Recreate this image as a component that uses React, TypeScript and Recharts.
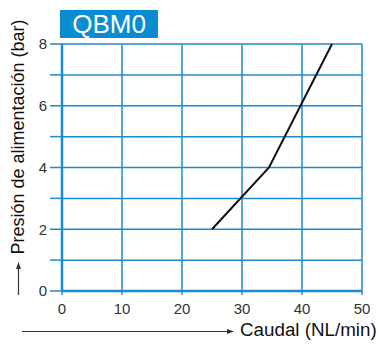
import { LineChart, Line, XAxis, YAxis, CartesianGrid } from 'recharts';

// reading of the QBM0 curve
const flow = [25, 34.5, 45];
const pressure = [2, 4, 8];
const xTicks = [0, 10, 20, 30, 40, 50];
const yTicks = [0, 1, 2, 3, 4, 5, 6, 7, 8];

const title = 'QBM0';
const xTitle = 'Caudal (NL/min)';
const yTitle = 'Presión de alimentación (bar)';

const BLUE = '#1f8ad2';
const FONT = '"Liberation Sans", Arial, sans-serif';

const data = flow.map((q, i) => ({ q, p: pressure[i] }));

function YTick({ x, y, payload }: any) {
  if (payload.value % 2 !== 0) return <g />;
  return (
    <text x={x} y={y} dy="0.36em" textAnchor="end" fontSize={15} fill="#333" fontFamily={FONT}>
      {payload.value}
    </text>
  );
}

function XTitle() {
  return (
    <g>
      <line x1={22} y1={331.5} x2={229} y2={331.5} stroke="#333" strokeWidth={1.2} />
      <path d="M234,331.5 L227,329 L227,334 Z" fill="#333" />
      <text x={240} y={336} fontSize={18.8} fill="#111" fontFamily={FONT}>
        {xTitle}
      </text>
    </g>
  );
}

function YTitle() {
  return (
    <g>
      <line x1={18.5} y1={295} x2={18.5} y2={268} stroke="#333" strokeWidth={1.2} />
      <path d="M18.5,262 L16,269 L21,269 Z" fill="#333" />
      <text
        x={0}
        y={0}
        transform="translate(24,137) rotate(-90)"
        textAnchor="middle"
        fontSize={18}
        fill="#111"
        fontFamily={FONT}
      >
        {yTitle}
      </text>
    </g>
  );
}

export default function App() {
  return (
    <div style={{ position: 'absolute', left: 0, top: 0, width: 379, height: 349, background: '#fff' }}>
      <LineChart width={379} height={349} data={data} margin={{ top: 44, right: 17, left: 42, bottom: 28 }}>
        <CartesianGrid stroke={BLUE} strokeWidth={1.5} />
        <XAxis
          dataKey="q"
          type="number"
          domain={[0, 50]}
          ticks={xTicks}
          height={30}
          axisLine={{ stroke: BLUE, strokeWidth: 2.5 }}
          tickLine={{ stroke: BLUE, strokeWidth: 1.5 }}
          tickSize={4}
          tickMargin={8}
          tick={{ fontSize: 15, fill: '#333', fontFamily: FONT }}
          label={{ content: () => <XTitle /> }}
        />
        <YAxis
          type="number"
          domain={[0, 8]}
          ticks={yTicks}
          width={20}
          axisLine={{ stroke: BLUE, strokeWidth: 2.5 }}
          tickLine={{ stroke: BLUE, strokeWidth: 1.5 }}
          tickSize={12}
          tickMargin={3}
          tick={<YTick />}
          label={{ content: () => <YTitle /> }}
        />
        <Line
          dataKey="p"
          type="linear"
          stroke="#111"
          strokeWidth={2}
          dot={false}
          isAnimationActive={false}
        />
      </LineChart>
      <div
        style={{
          position: 'absolute',
          left: 60,
          top: 10,
          width: 98,
          height: 28,
          background: '#0b8bd1',
          color: '#fff',
          fontFamily: FONT,
          fontSize: 26,
          lineHeight: '29px',
          textAlign: 'center',
        }}
      >
        {title}
      </div>
    </div>
  );
}
